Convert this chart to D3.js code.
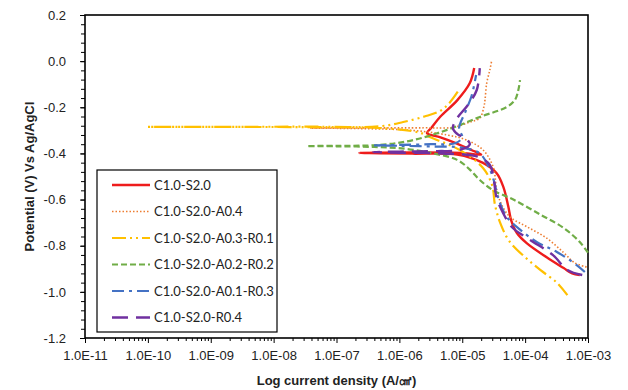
<!DOCTYPE html>
<html>
<head>
<meta charset="utf-8">
<script src="https://cdn.jsdelivr.net/npm/d3@7"></script>
<style>
  body { margin: 0; background: #fff; }
  svg { display: block; }
</style>
</head>
<body>
<div id="chart"></div>
<script>
/*
  Tafel polarisation curves
*/

// [current density (A/cm2), potential (V)] in scan order
var c10s20 = [[7.4e-4,-0.927],[5.6e-4,-0.92],[4.1e-4,-0.897],[2.2e-4,-0.85],[1.07e-4,-0.79],[7.4e-5,-0.745],[6.0e-5,-0.69],[5.4e-5,-0.63],[4.5e-5,-0.545],[3.5e-5,-0.485],[2.1e-5,-0.44],[8.3e-6,-0.405],[1.6e-6,-0.401],[5.0e-7,-0.399],[2.3e-7,-0.398],[5.0e-7,-0.397],[1.6e-6,-0.396],[1.0e-5,-0.398],[2.0e-5,-0.405],[1.4e-5,-0.385],[7.9e-6,-0.355],[4.5e-6,-0.33],[2.75e-6,-0.312],[3.2e-6,-0.29],[4.5e-6,-0.24],[8.3e-6,-0.17],[1.32e-5,-0.095],[1.55e-5,-0.03]];
var c10s20a04 = [[9.5e-4,-0.892],[6.2e-4,-0.875],[4.1e-4,-0.83],[2.2e-4,-0.767],[1.07e-4,-0.718],[5.75e-5,-0.675],[4.2e-5,-0.62],[3.55e-5,-0.56],[3.1e-5,-0.458],[2.14e-5,-0.385],[1.17e-5,-0.342],[5.75e-6,-0.32],[1.6e-6,-0.30],[3.2e-7,-0.293],[3.8e-8,-0.29],[3.2e-7,-0.289],[2.5e-6,-0.289],[7.1e-6,-0.287],[1.32e-5,-0.264],[1.9e-5,-0.247],[2.2e-5,-0.2],[2.3e-5,-0.168],[2.45e-5,-0.095],[2.75e-5,-0.038],[2.95e-5,0.005]];
var c10s20a03r01 = [[4.7e-4,-1.014],[3.2e-4,-0.96],[1.74e-4,-0.905],[1.0e-4,-0.85],[5.6e-5,-0.78],[4.0e-5,-0.70],[3.3e-5,-0.62],[3.0e-5,-0.54],[2.14e-5,-0.463],[9.1e-6,-0.385],[3.1e-6,-0.33],[2.1e-6,-0.31],[5.0e-7,-0.29],[3.2e-8,-0.286],[1.0e-10,-0.285],[3.2e-8,-0.284],[5.0e-7,-0.282],[1.15e-6,-0.264],[2.5e-6,-0.24],[4.5e-6,-0.215],[6.3e-6,-0.18],[9.1e-6,-0.12]];
var c10s20a02r02 = [[1.0e-3,-0.83],[7.4e-4,-0.784],[4.1e-4,-0.723],[1.74e-4,-0.665],[6.5e-5,-0.60],[3.1e-5,-0.56],[1.9e-5,-0.515],[1.32e-5,-0.47],[8.3e-6,-0.428],[3.5e-6,-0.40],[1.26e-6,-0.38],[4.0e-7,-0.372],[1.0e-7,-0.369],[3.4e-8,-0.368],[1.0e-7,-0.367],[4.9e-7,-0.363],[1.66e-6,-0.342],[5.75e-6,-0.298],[1.9e-5,-0.242],[5.1e-5,-0.199],[6.9e-5,-0.168],[7.8e-5,-0.125],[8.3e-5,-0.082]];
var c10s20a01r03 = [[8.9e-4,-0.914],[6.6e-4,-0.884],[3.2e-4,-0.827],[1.55e-4,-0.785],[8.3e-5,-0.73],[5.1e-5,-0.675],[3.8e-5,-0.60],[3.2e-5,-0.52],[2.75e-5,-0.47],[1.9e-5,-0.40],[1.0e-5,-0.375],[3.2e-6,-0.37],[1.0e-6,-0.367],[3.8e-7,-0.365],[1.0e-6,-0.363],[3.2e-6,-0.36],[7.9e-6,-0.355],[1.0e-5,-0.33],[8.9e-6,-0.29],[1.12e-5,-0.22],[1.41e-5,-0.15],[1.66e-5,-0.06]];
var c10s20r04 = [[8.1e-4,-0.927],[4.7e-4,-0.905],[2.75e-4,-0.84],[1.2e-4,-0.775],[6.2e-5,-0.72],[4.5e-5,-0.66],[3.5e-5,-0.59],[3.2e-5,-0.52],[2.75e-5,-0.45],[1.8e-5,-0.415],[5.0e-6,-0.40],[1.0e-6,-0.397],[3.8e-7,-0.394],[1.0e-6,-0.392],[4.0e-6,-0.39],[9.1e-6,-0.385],[1.32e-5,-0.36],[1.12e-5,-0.335],[8.3e-6,-0.315],[7.1e-6,-0.29],[8.3e-6,-0.247],[1.23e-5,-0.19],[1.7e-5,-0.125],[1.9e-5,-0.03]];

var seriesNames = ["C1.0-S2.0", "C1.0-S2.0-A0.4", "C1.0-S2.0-A0.3-R0.1", "C1.0-S2.0-A0.2-R0.2", "C1.0-S2.0-A0.1-R0.3", "C1.0-S2.0-R0.4"];
var seriesData = [c10s20, c10s20a04, c10s20a03r01, c10s20a02r02, c10s20a01r03, c10s20r04];

var xTickValues = [1e-11, 1e-10, 1e-9, 1e-8, 1e-7, 1e-6, 1e-5, 1e-4, 1e-3];
var xTickLabels = ["1.0E-11", "1.0E-10", "1.0E-09", "1.0E-08", "1.0E-07", "1.0E-06", "1.0E-05", "1.0E-04", "1.0E-03"];
var yTickValues = [0.2, 0.0, -0.2, -0.4, -0.6, -0.8, -1.0, -1.2];
var yTickLabels = ["0.2", "0.0", "-0.2", "-0.4", "-0.6", "-0.8", "-1.0", "-1.2"];

// styles
var colors = ["#ee1c1c", "#ed7d31", "#ffc000", "#70ad47", "#4472c4", "#7030a0"];
var dashes = [null, "1.5,2", "14,4,2,4,2,4", "6,3", "12,5,3,5", "16,8"];
var widths = [2.4, 1.6, 2.2, 2.2, 2.2, 2.4];

var margin = {top: 15, right: 40, bottom: 52, left: 85};
var width = 628 - margin.left - margin.right,
    height = 390 - margin.top - margin.bottom;

var svg = d3.select("#chart").append("svg")
    .attr("width", 628)
    .attr("height", 390)
    .style("font-family", "'Liberation Sans', Arial, sans-serif");

var g = svg.append("g")
    .attr("transform", "translate(" + margin.left + "," + margin.top + ")");

var x = d3.scaleLog().domain([1e-11, 1e-3]).range([0, width]);
var y = d3.scaleLinear().domain([-1.2, 0.2]).range([height, 0]);

//Minor ticks
var xMinor = [];
xTickValues.slice(0, -1).forEach(function(v){
  for (var k = 2; k < 10; k++) xMinor.push(v * k);
});
var yMinor = d3.range(0, 36).map(function(i){ return -1.2 + i * 0.04; });

g.append("g")
  .attr("transform", "translate(0," + height + ")")
  .call(d3.axisBottom(x).tickValues(xMinor).tickSize(3).tickFormat(""))
  .call(function(a){ a.select(".domain").remove(); });

g.append("g")
  .call(d3.axisLeft(y).tickValues(yMinor).tickSize(4).tickFormat(""))
  .call(function(a){ a.select(".domain").remove(); });

//Add the X Axis
g.append("g")
  .attr("transform", "translate(0," + height + ")")
  .call(d3.axisBottom(x).tickValues(xTickValues).tickSize(5).tickPadding(8)
    .tickFormat(function(d, i){ return xTickLabels[i]; }))
  .call(function(a){
    a.select(".domain").remove();
    a.selectAll("text").style("font-size", "13px").attr("fill", "#222");
  });

//Add the Y Axis
g.append("g")
  .call(d3.axisLeft(y).tickValues(yTickValues).tickSize(5).tickPadding(14)
    .tickFormat(function(d, i){ return yTickLabels[i]; }))
  .call(function(a){
    a.select(".domain").remove();
    a.selectAll("text").style("font-size", "13px").attr("fill", "#222");
  });

//Plot frame
g.append("rect")
  .attr("width", width)
  .attr("height", height)
  .attr("fill", "none")
  .attr("stroke", "#000")
  .attr("stroke-width", 1.6);

//Curves
var line = d3.line()
  .x(function(d){ return x(d[0]); })
  .y(function(d){ return y(d[1]); })
  .curve(d3.curveCatmullRom.alpha(0.5));

var plot = g.append("g");

seriesData.forEach(function(data, i){
  plot.append("path")
    .datum(data)
    .attr("fill", "none")
    .attr("stroke", colors[i])
    .attr("stroke-width", widths[i])
    .attr("stroke-dasharray", dashes[i])
    .attr("d", line);
});

//Legend
var legend = g.append("g")
  .attr("transform", "translate(" + (97 - margin.left) + "," + (170 - margin.top) + ")");

legend.append("rect")
  .attr("width", 180)
  .attr("height", 162)
  .attr("fill", "#fff")
  .attr("stroke", "#000")
  .attr("stroke-width", 1.2);

var entries = legend.selectAll(".entry")
  .data(seriesNames)
  .enter().append("g")
  .attr("class", "entry")
  .attr("transform", function(d, i){ return "translate(0," + (15 + i * 26.5) + ")"; });

entries.append("line")
  .attr("x1", 15)
  .attr("x2", 53)
  .attr("stroke", function(d, i){ return colors[i]; })
  .attr("stroke-width", function(d, i){ return widths[i]; })
  .attr("stroke-dasharray", function(d, i){ return dashes[i]; });

entries.append("text")
  .attr("x", 57)
  .attr("dy", "0.35em")
  .style("font-size", "13px")
  .style("font-family", "Lato, 'Liberation Sans', sans-serif")
  .attr("fill", "#222")
  .text(function(d){ return d; });

//Label for Y axis
svg.append("text")
  .attr("transform", "translate(29," + (margin.top + height / 2) + ") rotate(-90)")
  .attr("dy", "0.35em")
  .style("text-anchor", "middle")
  .style("font-size", "13px")
  .style("font-weight", "bold")
  .attr("fill", "#222")
  .text("Potential (V) Vs Ag/AgCl");

//Label for X axis
svg.append("text")
  .attr("x", margin.left + width / 2)
  .attr("y", 385)
  .style("text-anchor", "middle")
  .style("font-size", "13px")
  .style("font-weight", "bold")
  .attr("fill", "#222")
  .text("Log current density (A/㎠)");
</script>
</body>
</html>
